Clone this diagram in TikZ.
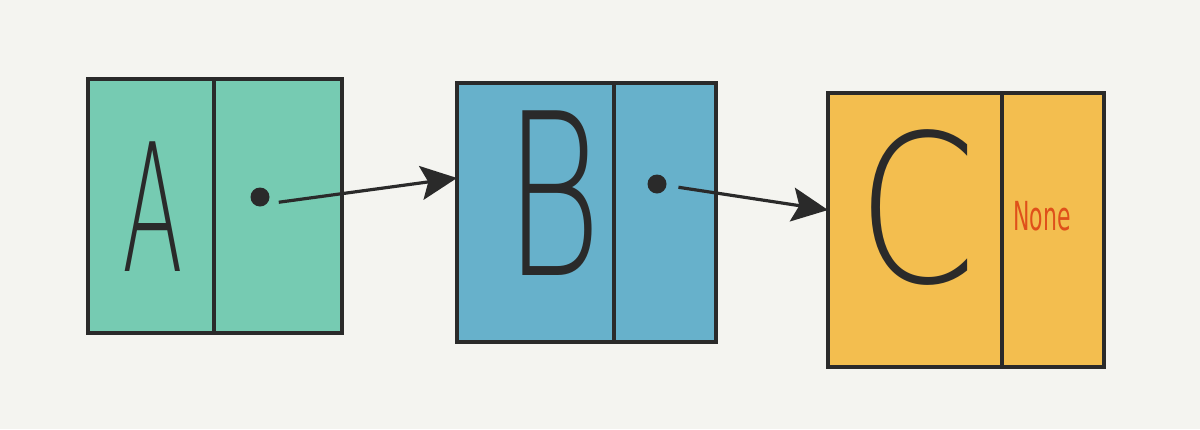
\documentclass[tikz,border=0pt]{standalone}
\usepackage{fontspec}
\newfontfamily\handfont{DejaVu Sans ExtraLight}
\newfontfamily\notefont{DejaVu Sans}
\usetikzlibrary{arrows.meta}
\definecolor{paper}{HTML}{F4F4F0}
\definecolor{ink}{HTML}{2A2A2A}
\definecolor{boxa}{HTML}{76CBB2}
\definecolor{boxb}{HTML}{67B1CB}
\definecolor{boxc}{HTML}{F3BE4F}
\definecolor{nonered}{HTML}{DF501A}
\begin{document}
\begin{tikzpicture}[x=1pt, y=-1pt,
	cell/.style={draw=ink, line width=3.2pt, inner sep=0pt},
	letter/.style={text=ink, inner sep=0pt},
	dot/.style={circle, fill=ink, inner sep=0pt, minimum size=19pt},
	ptr/.style={draw=ink, line width=3.2pt, -{Stealth[length=36pt, width=34pt, inset=7pt]}, shorten <=12pt}]
\fill[paper] (0,0) rectangle (1200,429);

\node[cell, fill=boxa, minimum width=126pt, minimum height=254pt] (na1) at (151, 206) {};
\node[cell, fill=boxa, minimum width=128pt, minimum height=254pt] (na2) at (278, 206) {};

\node[cell, fill=boxb, minimum width=157pt, minimum height=259pt] (nb1) at (535.5, 212.5) {};
\node[cell, fill=boxb, minimum width=102pt, minimum height=259pt] (nb2) at (665, 212.5) {};

\node[cell, fill=boxc, minimum width=174pt, minimum height=274pt] (nc1) at (915, 230) {};
\node[cell, fill=boxc, minimum width=102pt, minimum height=274pt] (nc2) at (1053, 230) {};

\node[letter, font=\handfont\fontsize{178}{178}\selectfont] (la) at (153, 207) {\scalebox{0.5}[1]{A}};
\node[letter, font=\handfont\fontsize{226}{226}\selectfont] (lb) at (553, 193) {\scalebox{0.66}[1]{B}};
\node[letter, font=\handfont\fontsize{206}{206}\selectfont] (lc) at (917, 208) {\scalebox{0.83}[1]{C}};
\node[letter, text=nonered, font=\notefont\fontsize{40}{40}\selectfont] (nn) at (1042, 216) {\scalebox{0.55}[1]{None}};

\node[dot] (da) at (260, 197) {};
\node[dot] (db) at (657, 184) {};

\coordinate (tb) at (457, 178);
\coordinate (tc) at (828, 210);

\draw[ptr] (da.south east) -- (tb);
\draw[ptr] (db) -- (tc);
\end{tikzpicture}
\end{document}
